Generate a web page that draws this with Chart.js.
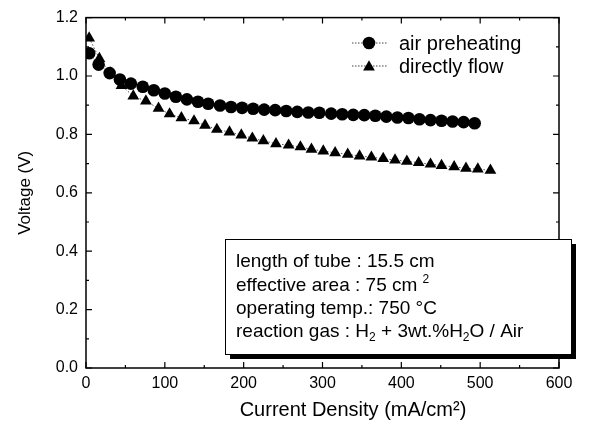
<!DOCTYPE html>
<html>
<head>
<meta charset="utf-8">
<script src="https://cdn.jsdelivr.net/npm/chart.js@4.4.0/dist/chart.umd.min.js"></script>
<style>
  html, body { margin: 0; padding: 0; background: #fff; }
  #wrap { width: 611px; height: 437px; }
</style>
</head>
<body>
<div id="wrap"><canvas id="chart" width="611" height="437"></canvas></div>
<script>
// values
const currentAir = [4, 16, 30, 43, 57, 72, 86, 100, 114, 128, 142, 155, 170, 184, 198, 212, 226, 240,
  254, 268, 282, 296, 311, 325, 339, 353, 367, 381, 395, 409, 423, 437, 451, 465, 479, 493];
const voltageAir = [1.078, 1.039, 1.010, 0.988, 0.974, 0.963, 0.951, 0.940, 0.929, 0.920, 0.912, 0.905,
  0.899, 0.894, 0.891, 0.888, 0.885, 0.883, 0.880, 0.877, 0.875, 0.874, 0.871, 0.869, 0.867, 0.866,
  0.864, 0.861, 0.858, 0.856, 0.852, 0.849, 0.847, 0.844, 0.842, 0.838];

const currentDirect = [4, 17, 31, 45, 60, 76, 92, 106, 121, 137, 151, 166, 182, 197, 211, 225, 241, 257,
  272, 286, 301, 316, 332, 347, 362, 377, 392, 407, 422, 437, 451, 467, 482, 497, 513];
const voltageDirect = [1.13, 1.06, 1.01, 0.967, 0.931, 0.914, 0.889, 0.870, 0.857, 0.846, 0.831, 0.817,
  0.808, 0.798, 0.787, 0.778, 0.768, 0.763, 0.757, 0.749, 0.743, 0.737, 0.732, 0.726, 0.722, 0.717,
  0.712, 0.708, 0.703, 0.698, 0.693, 0.689, 0.684, 0.681, 0.677];

const seriesNames = ['air preheating', 'directly flow'];
const xTitle = 'Current Density (mA/cm\u00B2)';
const yTitle = 'Voltage (V)';

// text in the info box: [text, 'sub' | 'sup' | undefined]
const infoLines = [
  [['length of tube : 15.5 cm']],
  [['effective area : 75 cm '], ['2', 'sup']],
  [['operating temp.: 750 \u00B0C']],
  [['reaction gas : H'], ['2', 'sub'], [' + 3wt.%H'], ['2', 'sub'], ['O / Air']]
];

const FONT = "'Liberation Sans', Arial, sans-serif";

function toXY(xs, ys) {
  return xs.map((x, i) => ({ x: x, y: ys[i] }));
}

function drawMarker(ctx, style, x, y, r) {
  ctx.beginPath();
  if (style === 'circle') {
    ctx.arc(x, y, r, 0, Math.PI * 2);
  } else {
    // same geometry as Chart.js 'triangle'
    let rad = 0;
    for (let k = 0; k < 3; k++) {
      const px = x + Math.sin(rad) * r, py = y - Math.cos(rad) * r;
      if (k === 0) ctx.moveTo(px, py); else ctx.lineTo(px, py);
      rad += Math.PI * 2 / 3;
    }
    ctx.closePath();
  }
  ctx.fillStyle = '#000';
  ctx.fill();
}

const framePlugin = {
  id: 'frame',
  afterDraw(chart) {
    const ctx = chart.ctx;
    const a = chart.chartArea;
    const xs = chart.scales.x, ys = chart.scales.y;
    ctx.save();
    ctx.strokeStyle = '#000';
    ctx.lineWidth = 1.5;
    ctx.strokeRect(a.left, a.top, a.right - a.left, a.bottom - a.top);

    // inward ticks on all four sides
    ctx.lineWidth = 1.2;
    ctx.beginPath();
    for (let v = 0; v <= 600; v += 50) {
      const px = xs.getPixelForValue(v);
      const len = v % 100 === 0 ? 6 : 3;
      ctx.moveTo(px, a.bottom); ctx.lineTo(px, a.bottom - len);
      ctx.moveTo(px, a.top); ctx.lineTo(px, a.top + len);
    }
    for (let i = 0; i <= 12; i++) {
      const py = ys.getPixelForValue(i / 10);
      const len = i % 2 === 0 ? 6 : 3;
      ctx.moveTo(a.left, py); ctx.lineTo(a.left + len, py);
      ctx.moveTo(a.right, py); ctx.lineTo(a.right - len, py);
    }
    ctx.stroke();

    // x axis title (sits a little right of centre in the original)
    ctx.fillStyle = '#000';
    ctx.font = '20px ' + FONT;
    ctx.textAlign = 'center';
    ctx.textBaseline = 'middle';
    ctx.fillText(xTitle, 353, 410);

    // legend
    const styles = ['circle', 'triangle'];
    const sizes = [6.3, 6.8];
    const rowY = [43, 66];
    seriesNames.forEach((name, i) => {
      const y = rowY[i];
      ctx.save();
      ctx.strokeStyle = '#444';
      ctx.lineWidth = 1;
      ctx.setLineDash([1.5, 1.5]);
      ctx.beginPath();
      ctx.moveTo(352, y); ctx.lineTo(387, y);
      ctx.stroke();
      ctx.restore();
      drawMarker(ctx, styles[i], 369, y + (i === 1 ? 1 : 0), sizes[i]);
      ctx.fillStyle = '#000';
      ctx.font = '20px ' + FONT;
      ctx.textBaseline = 'middle';
      ctx.textAlign = 'left';
      ctx.fillText(name, 399, y + 1);
    });

    // info box with shadow
    const bx = 225, by = 239, bw = 346, bh = 115;
    ctx.fillStyle = '#000';
    ctx.fillRect(bx + 5, by + 5, bw, bh);
    ctx.fillStyle = '#fff';
    ctx.fillRect(bx, by, bw, bh);
    ctx.lineWidth = 1;
    ctx.strokeStyle = '#000';
    ctx.strokeRect(bx + 0.5, by + 0.5, bw, bh);

    ctx.fillStyle = '#000';
    ctx.textBaseline = 'alphabetic';
    ctx.textAlign = 'left';
    const base = [267, 291, 314, 337];
    infoLines.forEach((segs, i) => {
      let x = bx + 11;
      segs.forEach(seg => {
        const kind = seg[1];
        let y = base[i];
        if (kind === 'sub') { ctx.font = '12px ' + FONT; y += 4; }
        else if (kind === 'sup') { ctx.font = '12px ' + FONT; y -= 8; }
        else { ctx.font = '19px ' + FONT; }
        ctx.fillText(seg[0], x, y);
        x += ctx.measureText(seg[0]).width;
      });
    });
    ctx.restore();
  }
};

const lineStyle = {
  showLine: true,
  borderColor: '#555',
  borderWidth: 1,
  borderDash: [1.5, 2],
  pointBackgroundColor: '#000',
  pointBorderColor: '#000',
  pointBorderWidth: 0
};

new Chart(document.getElementById('chart').getContext('2d'), {
  type: 'scatter',
  data: {
    datasets: [
      Object.assign({ label: seriesNames[0], data: toXY(currentAir, voltageAir), pointStyle: 'circle', pointRadius: 6.3 }, lineStyle),
      Object.assign({ label: seriesNames[1], data: toXY(currentDirect, voltageDirect), pointStyle: 'triangle', pointRadius: 6.8 }, lineStyle)
    ]
  },
  options: {
    responsive: false,
    animation: false,
    devicePixelRatio: 1,
    layout: { padding: { left: 0, right: 52, top: 16, bottom: 0 } },
    plugins: { legend: { display: false }, tooltip: { enabled: false } },
    scales: {
      x: {
        type: 'linear', min: 0, max: 600,
        grid: { display: false, drawTicks: false },
        border: { display: false },
        ticks: { stepSize: 100, padding: 6, color: '#000', font: { family: FONT, size: 16 } },
        title: { display: false },
        afterFit(s) { s.height = 69; }
      },
      y: {
        type: 'linear', min: 0, max: 1.2,
        grid: { display: false, drawTicks: false },
        border: { display: false },
        ticks: { stepSize: 0.2, padding: 8, color: '#000', font: { family: FONT, size: 16 },
          callback: v => v.toFixed(1) },
        title: { display: true, text: yTitle, color: '#000', font: { family: FONT, size: 17 }, padding: { top: 15, bottom: 0 } },
        afterFit(s) { s.width = 86; }
      }
    }
  },
  plugins: [framePlugin]
});
</script>
</body>
</html>
